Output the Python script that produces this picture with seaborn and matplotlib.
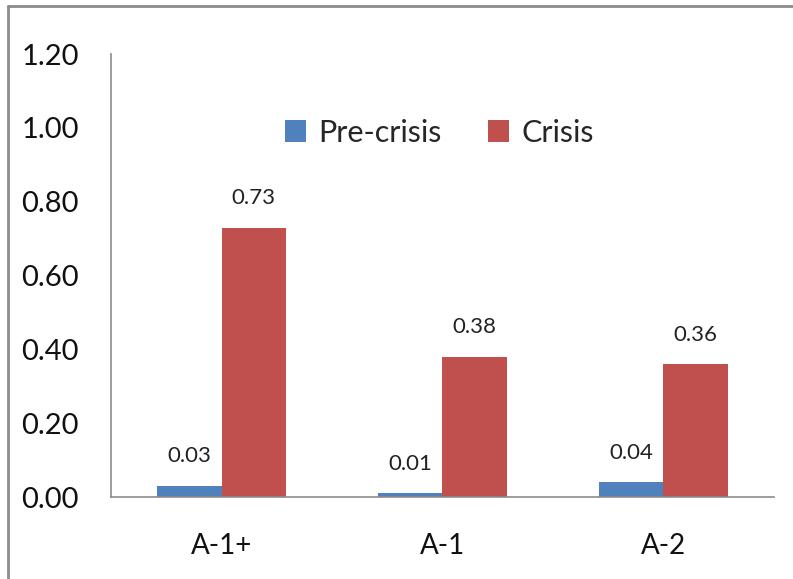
import matplotlib
matplotlib.use("Agg")
import matplotlib.pyplot as plt
import seaborn as sns
import pandas as pd
from matplotlib.lines import Line2D

categories = ["A-1+", "A-1", "A-2"]
series_names = ["Pre-crisis", "Crisis"]
pre_crisis = [0.03, 0.01, 0.04]
crisis = [0.73, 0.38, 0.36]
y_ticks = [0.0, 0.2, 0.4, 0.6, 0.8, 1.0, 1.2]

colors = ["#4F81BD", "#C0504D"]

sns.set_theme(style="white")
plt.rcParams["font.family"] = ["Lato", "DejaVu Sans"]

df = pd.DataFrame({
    "cat": categories * 2,
    "series": [series_names[0]] * 3 + [series_names[1]] * 3,
    "value": pre_crisis + crisis,
})

fig = plt.figure(figsize=(7.93, 5.79), dpi=100)
ax = fig.add_axes([0.140, 0.1416, 0.836, 0.7651])

sns.barplot(data=df, x="cat", y="value", hue="series", order=categories,
            hue_order=series_names, palette=colors, width=0.58, gap=0,
            saturation=1, ax=ax, edgecolor="none", linewidth=0)

for cont in ax.containers:
    labels = [f"{v:.2f}" for v in cont.datavalues]
    ax.bar_label(cont, labels=labels, padding=14, fontsize=16, color="#222222")

ax.set_ylim(0, 1.2)
ax.set_xlim(-0.5, 2.5)
ax.set_yticks(y_ticks)
ax.set_yticklabels([f"{t:.2f}" for t in y_ticks], fontsize=21)
ax.set_xticks(range(len(categories)))
ax.set_xticklabels(categories, fontsize=20)
ax.set_xticks([-0.5, 0.5, 1.5, 2.5], minor=True)
ax.tick_params(axis="x", which="major", length=0, pad=26, colors="#111111")
ax.tick_params(axis="x", which="minor", length=7, width=1.2, color="#8c8c8c", direction="out")
ax.tick_params(axis="y", which="major", length=7, width=1.2, color="#8c8c8c", direction="out", pad=16, labelcolor="#111111")
ax.set_xlabel("")
ax.set_ylabel("")
for s in ["top", "right"]:
    ax.spines[s].set_visible(False)
for s in ["left", "bottom"]:
    ax.spines[s].set_color("#8c8c8c")
    ax.spines[s].set_linewidth(1.2)

handles, labels = ax.get_legend_handles_labels()
ax.legend(handles, labels, loc="center", bbox_to_anchor=(0.495, 0.822), ncol=2,
          frameon=False, fontsize=22, handlelength=0.7, handleheight=0.7,
          handletextpad=0.4, columnspacing=1.5)

# outer chart border (left and top visible)
fig.add_artist(Line2D([8 / 793, 8 / 793], [0, 1 - 6 / 579], transform=fig.transFigure,
                      color="#8c8c8c", linewidth=2))
fig.add_artist(Line2D([8 / 793, 1], [1 - 6 / 579, 1 - 6 / 579], transform=fig.transFigure,
                      color="#8c8c8c", linewidth=2))

fig.savefig("out.png", dpi=100)
